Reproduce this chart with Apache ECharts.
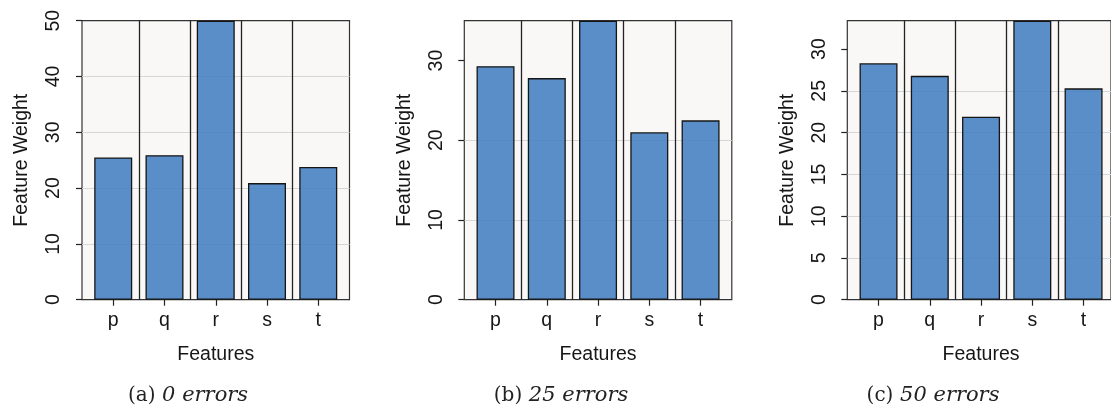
<!DOCTYPE html>
<html>
<head>
<meta charset="utf-8">
<script src="https://cdn.jsdelivr.net/npm/echarts@6/dist/echarts.min.js"></script>
<style>
  html, body { margin: 0; padding: 0; background: #ffffff; }
  #chart { width: 1111px; height: 411px; }
</style>
</head>
<body>
<div id="chart"></div>
<script>
// ---- data ----
const categories = ['p', 'q', 'r', 's', 't'];
const weights0 = [25.5, 25.9, 50, 20.9, 23.8];    // (a) 0 errors
const weights25 = [29.3, 27.8, 35, 21.0, 22.5];   // (b) 25 errors
const weights50 = [28.3, 26.8, 21.9, 33.4, 25.3]; // (c) 50 errors
const yMax = [50, 35, 33.4];
const yGridStep = [10, 5, 5];
const yTickLabels0 = [0, 10, 20, 30, 40, 50];
const yTickLabels25 = [0, 10, 20, 30];
const yTickLabels50 = [0, 5, 10, 15, 20, 25, 30];
const captionLetters = ['(a)', '(b)', '(c)'];
const captionNotes = ['0 errors', '25 errors', '50 errors'];
const xAxisTitle = 'Features';
const yAxisTitle = 'Feature Weight';

// ---- layout ----
const series = [weights0, weights25, weights50];
const tickLabels = [yTickLabels0, yTickLabels25, yTickLabels50];
const frameLeft = [82, 464.3, 847.3];
const frameTop = 20.7, frameHeight = 279, frameWidth = 267.5, inset = 5.6;
const captionX = [188, 561, 933];
const captionY = 396;

const FONT = '"Liberation Sans", Arial, Helvetica, sans-serif';
const TXT = '#161616';

const grid = [], xAxis = [], yAxis = [], seriesList = [], graphic = [];
for (let k = 0; k < 3; k++) {
  // frame grid
  grid.push({
    left: frameLeft[k], top: frameTop, width: frameWidth, height: frameHeight,
    show: true, backgroundColor: '#f9f8f6', borderColor: '#333333', borderWidth: 1.2, z: -1
  });
  // inner band grid (bars)
  grid.push({
    left: frameLeft[k] + inset, top: frameTop, width: frameWidth - 2 * inset, height: frameHeight,
    show: false
  });
  xAxis.push({ type: 'value', gridIndex: 2 * k, min: 0, max: 1, show: false });
  xAxis.push({
    type: 'category', gridIndex: 2 * k + 1, data: categories, boundaryGap: true,
    axisLine: { show: false },
    axisTick: { show: true, alignWithLabel: true, length: 6, lineStyle: { color: '#222', width: 1.2 } },
    axisLabel: { margin: 11, fontSize: 19.5, color: TXT, fontFamily: FONT },
    splitLine: { show: true, showMinLine: false, showMaxLine: false, lineStyle: { color: '#222222', width: 1.3 } },
    name: xAxisTitle, nameLocation: 'middle', nameGap: 45,
    nameTextStyle: { fontSize: 19.5, color: TXT, fontFamily: FONT }
  });
  yAxis.push({
    type: 'value', gridIndex: 2 * k, min: 0, max: yMax[k], interval: yGridStep[k],
    axisLine: { show: false },
    axisTick: { show: true, length: 6, lineStyle: { color: '#222', width: 1.2 }, customValues: tickLabels[k] },
    axisLabel: { rotate: 90, margin: 18, fontSize: 19.5, color: TXT, fontFamily: FONT, customValues: tickLabels[k] },
    splitLine: { show: true, showMinLine: false, showMaxLine: false, lineStyle: { color: '#d6d6d6', width: 1 } },
    name: yAxisTitle, nameLocation: 'middle', nameRotate: 90, nameGap: 50,
    nameTextStyle: { fontSize: 19.5, color: TXT, fontFamily: FONT }
  });
  yAxis.push({ type: 'value', gridIndex: 2 * k + 1, min: 0, max: yMax[k], show: false });
  seriesList.push({
    type: 'bar', xAxisIndex: 2 * k + 1, yAxisIndex: 2 * k + 1, data: series[k],
    barWidth: 38, silent: true,
    itemStyle: { color: 'rgba(72,130,195,0.9)', borderColor: '#151515', borderWidth: 1.3 }
  });
  graphic.push({
    type: 'text', x: captionX[k], y: captionY,
    style: {
      text: '{n|' + captionLetters[k] + '}  {i|' + captionNotes[k] + '}',
      textAlign: 'center', textVerticalAlign: 'middle', align: 'center', verticalAlign: 'middle',
      rich: {
        n: { fontFamily: '"DejaVu Serif", serif', fontSize: 20, fill: '#222', color: '#222' },
        i: { fontFamily: '"DejaVu Serif", serif', fontStyle: 'italic', fontSize: 21, fill: '#222', color: '#222' }
      }
    }
  });
}

const chart = echarts.init(document.getElementById('chart'), null, { renderer: 'canvas' });
chart.setOption({
  animation: false,
  backgroundColor: '#ffffff',
  grid: grid, xAxis: xAxis, yAxis: yAxis, series: seriesList, graphic: graphic
});
</script>
</body>
</html>
